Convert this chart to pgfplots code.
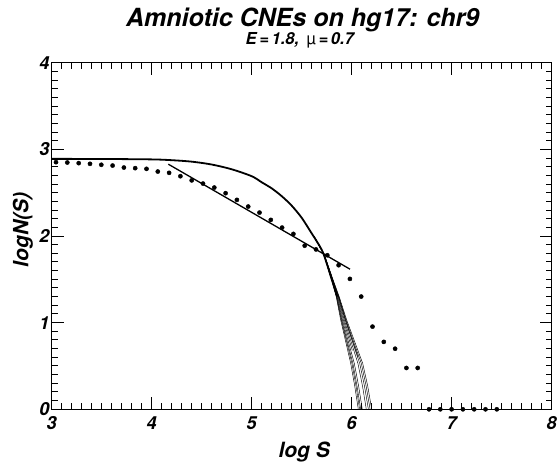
\documentclass[border=0pt]{standalone}
\usepackage{fontspec}
\setmainfont{TeX Gyre Heros}
\usepackage{pgfplots}
\usepackage{pgfplotstable}
\pgfplotsset{compat=1.18}

\pgfplotstableread{
x y
3.043 2.852
3.156 2.848
3.270 2.841
3.383 2.833
3.496 2.822
3.609 2.813
3.722 2.790
3.835 2.783
3.948 2.775
4.061 2.744
4.174 2.729
4.287 2.690
4.400 2.642
4.513 2.605
4.626 2.559
4.739 2.494
4.852 2.417
4.965 2.340
5.078 2.270
5.191 2.186
5.304 2.097
5.417 2.024
5.530 1.888
5.643 1.845
5.756 1.778
5.869 1.663
5.982 1.505
6.095 1.301
6.208 0.954
6.321 0.778
6.434 0.699
6.547 0.477
6.660 0.477
6.773 0
6.886 0
6.999 0
7.112 0
7.225 0
7.338 0
7.451 0
}\dots

\pgfplotstableread{
x y
3.00 2.890
3.50 2.889
4.00 2.884
4.20 2.875
4.40 2.858
4.60 2.825
4.80 2.770
5.00 2.690
5.10 2.620
5.20 2.550
5.30 2.460
5.40 2.350
5.50 2.210
5.60 2.030
5.65 1.940
5.716 1.800
5.80 1.500
5.855 1.300
}\maincurve

\begin{document}
\begin{tikzpicture}
\path[use as bounding box] (-51.7pt,-53.7pt) rectangle (507.3pt,409.3pt);
\begin{axis}[
  at={(0pt,0pt)}, anchor=south west,
  scale only axis, width=500pt, height=346.6pt,
  xmin=3, xmax=8, ymin=0, ymax=4,
  xtick={3,4,5,6,7,8}, ytick={0,1,2,3,4},
  minor x tick num=9, minor y tick num=9,
  tick align=inside,
  major tick length=12pt, minor tick length=6pt,
  axis line style={line width=1.4pt},
  every tick/.style={line width=1pt, black},
  /pgf/number format/assume math mode=true,
  ticklabel style={font=\fontsize{18}{18}\selectfont\bfseries\itshape},
  xticklabel style={inner sep=1pt, yshift=-6pt},
  yticklabel style={inner sep=1pt, xshift=-1pt},
  xlabel={log S}, ylabel={logN(S)},
  label style={font=\fontsize{21}{21}\selectfont\bfseries\itshape},
  xlabel style={at={(axis description cs:0.505,-0.1397)}, anchor=base},
  ylabel style={at={(axis description cs:-0.0468,0.517)}, anchor=base},
  clip=false,
]
\addplot[only marks, mark=*, mark size=2.1pt, black] table[x=x,y=y] {\dots};
\addplot[black, line width=1.8pt, smooth] table[x=x,y=y] {\maincurve};
\addplot[black, line width=1.3pt] coordinates {(4.166,2.829) (5.983,1.617)};
% thin bundle of curves
\addplot[black, line width=0.45pt] coordinates {(5.62,2.0) (5.716,1.80) (5.800,1.49) (5.845,1.30) (5.890,1.03) (5.940,0.78) (5.990,0.53) (6.030,0.27) (6.066,0)};
\addplot[black, line width=0.45pt] coordinates {(5.62,2.0) (5.7165,1.80) (5.8015,1.49) (5.848,1.30) (5.896,1.03) (5.949,0.78) (6.002,0.53) (6.043,0.27) (6.079,0)};
\addplot[black, line width=0.45pt] coordinates {(5.62,2.0) (5.717,1.80) (5.803,1.49) (5.850,1.30) (5.901,1.03) (5.956,0.78) (6.012,0.53) (6.053,0.27) (6.090,0)};
\addplot[black, line width=0.45pt] coordinates {(5.62,2.0) (5.7175,1.80) (5.8045,1.49) (5.854,1.30) (5.908,1.03) (5.967,0.78) (6.026,0.53) (6.069,0.27) (6.106,0)};
\addplot[black, line width=0.45pt] coordinates {(5.62,2.0) (5.719,1.80) (5.809,1.49) (5.863,1.30) (5.926,1.03) (5.994,0.78) (6.062,0.53) (6.108,0.27) (6.146,0)};
\addplot[black, line width=0.45pt] coordinates {(5.62,2.0) (5.720,1.80) (5.811,1.49) (5.8675,1.30) (5.935,1.03) (6.0075,0.78) (6.080,0.53) (6.1275,0.27) (6.167,0)};
\addplot[black, line width=0.45pt] coordinates {(5.62,2.0) (5.720,1.80) (5.813,1.49) (5.871,1.30) (5.943,1.03) (6.019,0.78) (6.096,0.53) (6.144,0.27) (6.184,0)};
\addplot[black, line width=0.45pt] coordinates {(5.62,2.0) (5.721,1.80) (5.815,1.49) (5.875,1.30) (5.950,1.03) (6.030,0.78) (6.110,0.53) (6.160,0.27) (6.200,0)};
\addplot[black, line width=0.45pt] coordinates {(5.62,2.0) (5.718,1.80) (5.807,1.49) (5.8585,1.30) (5.917,1.03) (5.9805,0.78) (6.006,0.68)};
\addplot[black, line width=0.45pt] coordinates {(5.62,2.0) (5.720,1.80) (5.812,1.49) (5.869,1.30) (5.938,1.03) (6.012,0.78) (6.065,0.60)};
\end{axis}
\node[anchor=base, font=\fontsize{25}{25}\selectfont\bfseries\itshape] at (251pt,382.6pt) {Amniotic CNEs on hg17: chr9};
\node[anchor=base, font=\fontsize{16.5}{16.5}\selectfont\bfseries\itshape] at (248pt,364.6pt) {E\,=\,1.8,\, {\mdseries\upshape µ}\,=\,0.7};
\end{tikzpicture}
\end{document}
